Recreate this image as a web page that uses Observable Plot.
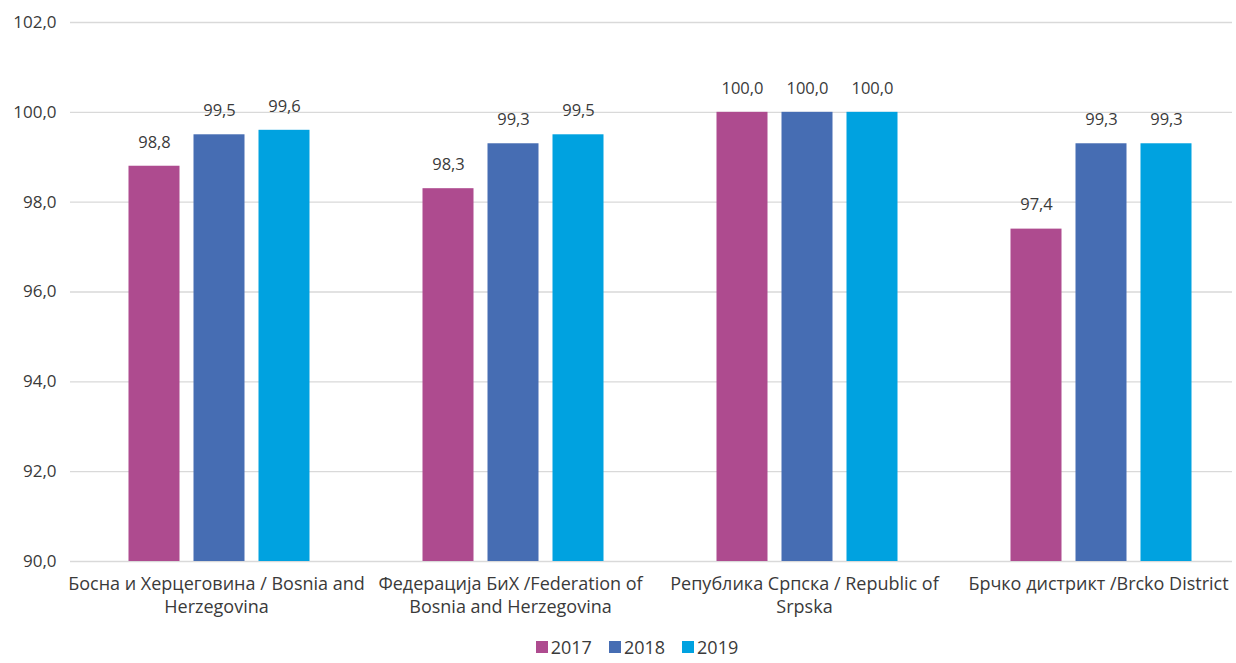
<!DOCTYPE html>
<html>
<head>
<meta charset="utf-8">
<script src="https://cdn.jsdelivr.net/npm/d3@7"></script>
<script src="https://cdn.jsdelivr.net/npm/@observablehq/plot@0.6"></script>
<style>
  html, body { margin: 0; padding: 0; background: #fff; }
  body { width: 1236px; height: 663px; overflow: hidden; font-family: "Open Sans", "Noto Sans", sans-serif; }
  #legend { display: flex; justify-content: center; align-items: center; gap: 17px; height: 33px; padding-left: 38px; box-sizing: border-box; font-size: 18px; color: #3a3a3a; }
  #legend .item { display: flex; align-items: center; }
  #legend .sw { width: 12px; height: 12px; margin-right: 3px; display: inline-block; }
</style>
</head>
<body>
<div id="chart"></div>
<div id="legend"></div>
<script>
const categories = [
  "Босна и Херцеговина / Bosnia and\nHerzegovina",
  "Федерација БиХ /Federation of\nBosnia and Herzegovina",
  "Република Српска / Republic of\nSrpska",
  "Брчко дистрикт /Brcko District"
];
const years = ["2017", "2018", "2019"];
const values2017 = [98.8, 98.3, 100.0, 97.4];
const values2018 = [99.5, 99.3, 100.0, 99.3];
const values2019 = [99.6, 99.5, 100.0, 99.3];
const colors = ["#AE4B8F", "#466DB3", "#00A2E0"];
const yTicks = [90, 92, 94, 96, 98, 100, 102];

const series = [values2017, values2018, values2019];
const rows = [];
years.forEach((yr, i) => categories.forEach((c, j) => rows.push({cat: c, year: yr, value: series[i][j]})));

const fmt = d => d.toFixed(1).replace(".", ",");
const offsets = {"2017": -65, "2018": 0, "2019": 65};
const font = "'Open Sans', 'Noto Sans', sans-serif";
const ink = "#3a3a3a";

const barMarks = years.map(yr => Plot.barY(rows.filter(r => r.year === yr), {
  x: "cat", y1: 90, y2: "value", fill: "year",
  dx: offsets[yr], insetLeft: 121.5, insetRight: 121.5
}));
const labelMarks = years.map(yr => Plot.text(rows.filter(r => r.year === yr), {
  x: "cat", y: "value", text: d => fmt(d.value), dx: offsets[yr], dy: -24,
  fontSize: 16.5, fill: ink
}));

const chart = Plot.plot({
  width: 1236,
  height: 630,
  marginLeft: 70,
  marginRight: 4,
  marginTop: 22,
  marginBottom: 69,
  style: {fontFamily: font, background: "#fff", color: ink},
  x: {type: "band", domain: categories, range: [72, 1248], padding: 0, axis: null},
  y: {domain: [90, 102], ticks: yTicks, axis: null},
  color: {domain: years, range: colors},
  marks: [
    Plot.ruleY(yTicks, {stroke: "#d9d9d9", strokeWidth: 1.3}),
    Plot.axisY(yTicks, {tickSize: 0, tickPadding: 14, tickFormat: fmt, fontSize: 17, fill: ink, label: null}),
    ...barMarks,
    ...labelMarks,
    Plot.text(categories, {x: d => d, dx: -3, frameAnchor: "bottom", text: d => d, lineAnchor: "top", dy: 12, lineHeight: 1.28, fontSize: 18, fill: ink})
  ]
});
document.getElementById("chart").appendChild(chart);

const legend = document.getElementById("legend");
years.forEach((yr, i) => {
  const it = document.createElement("div");
  it.className = "item";
  it.innerHTML = `<span class="sw" style="background:${colors[i]}"></span><span>${yr}</span>`;
  legend.appendChild(it);
});
</script>
</body>
</html>
